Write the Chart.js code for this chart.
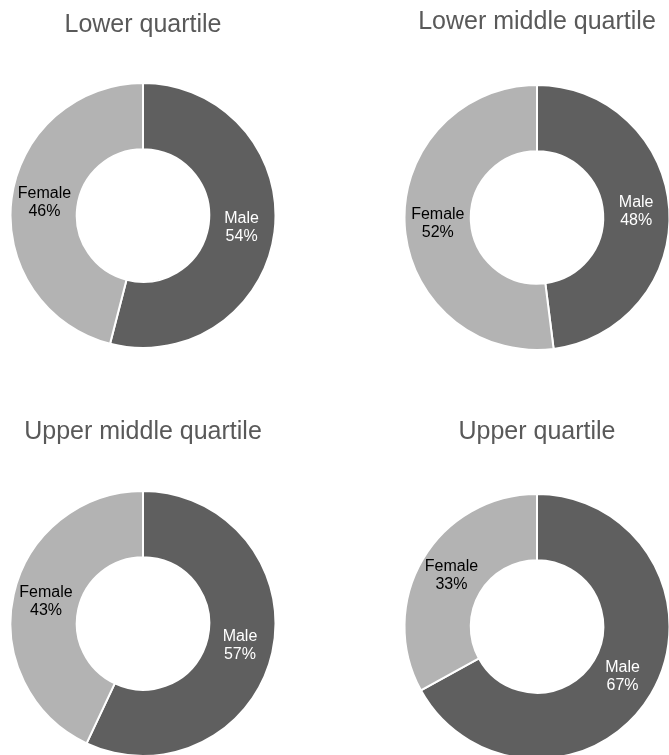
<!DOCTYPE html>
<html>
<head>
<meta charset="utf-8">
<script src="https://cdn.jsdelivr.net/npm/chart.js@4"></script>
<style>
  html, body { margin: 0; padding: 0; background: #fff; }
  body { width: 669px; height: 755px; position: relative; overflow: hidden; }
  .panel { position: absolute; }
  #p0 { left: 8px;   top: 0px;   width: 270px; height: 349px; }
  #p1 { left: 402px; top: 0px;   width: 270px; height: 351px; }
  #p2 { left: 8px;   top: 400px; width: 270px; height: 357px; }
  #p3 { left: 402px; top: 400px; width: 270px; height: 360px; }
</style>
</head>
<body>
<div class="panel" id="p0"><canvas id="c0"></canvas></div>
<div class="panel" id="p1"><canvas id="c1"></canvas></div>
<div class="panel" id="p2"><canvas id="c2"></canvas></div>
<div class="panel" id="p3"><canvas id="c3"></canvas></div>
<script>
// data
const quartiles = ['Lower quartile', 'Lower middle quartile', 'Upper middle quartile', 'Upper quartile'];
const genders = ['Male', 'Female'];
const maleShare = [54, 48, 57, 67];
const femaleShare = [46, 52, 43, 33];

const segColors = ['#5f5f5f', '#b3b3b3'];
const labelColors = ['#ffffff', '#000000'];
// title padding per panel (top, bottom)
const titlePad = [[10, 42], [7, 47], [17, 43], [17, 46]];

// draws "Male\n54%" style labels in the middle of each slice
const sliceLabels = {
  id: 'sliceLabels',
  afterDatasetsDraw(chart) {
    const ctx = chart.ctx;
    const meta = chart.getDatasetMeta(0);
    const values = chart.data.datasets[0].data;
    ctx.save();
    ctx.font = '16px "Liberation Sans", Arial, sans-serif';
    ctx.textAlign = 'center';
    ctx.textBaseline = 'middle';
    meta.data.forEach((arc, i) => {
      const p = arc.getCenterPoint();
      ctx.fillStyle = labelColors[i];
      ctx.fillText(chart.data.labels[i], p.x, p.y - 9);
      ctx.fillText(values[i] + '%', p.x, p.y + 9);
    });
    ctx.restore();
  }
};

quartiles.forEach((name, i) => {
  new Chart(document.getElementById('c' + i), {
    type: 'doughnut',
    data: {
      labels: genders,
      datasets: [{
        data: [maleShare[i], femaleShare[i]],
        backgroundColor: segColors,
        borderColor: '#ffffff',
        borderWidth: 2
      }]
    },
    options: {
      responsive: true,
      maintainAspectRatio: false,
      animation: false,
      cutout: '50%',
      layout: { padding: 0 },
      plugins: {
        legend: { display: false },
        tooltip: { enabled: false },
        title: {
          display: true,
          text: name,
          color: '#595959',
          font: { family: '"Liberation Sans", Arial, sans-serif', size: 25, weight: 'normal' },
          padding: { top: titlePad[i][0], bottom: titlePad[i][1] }
        }
      }
    },
    plugins: [sliceLabels]
  });
});
</script>
</body>
</html>
